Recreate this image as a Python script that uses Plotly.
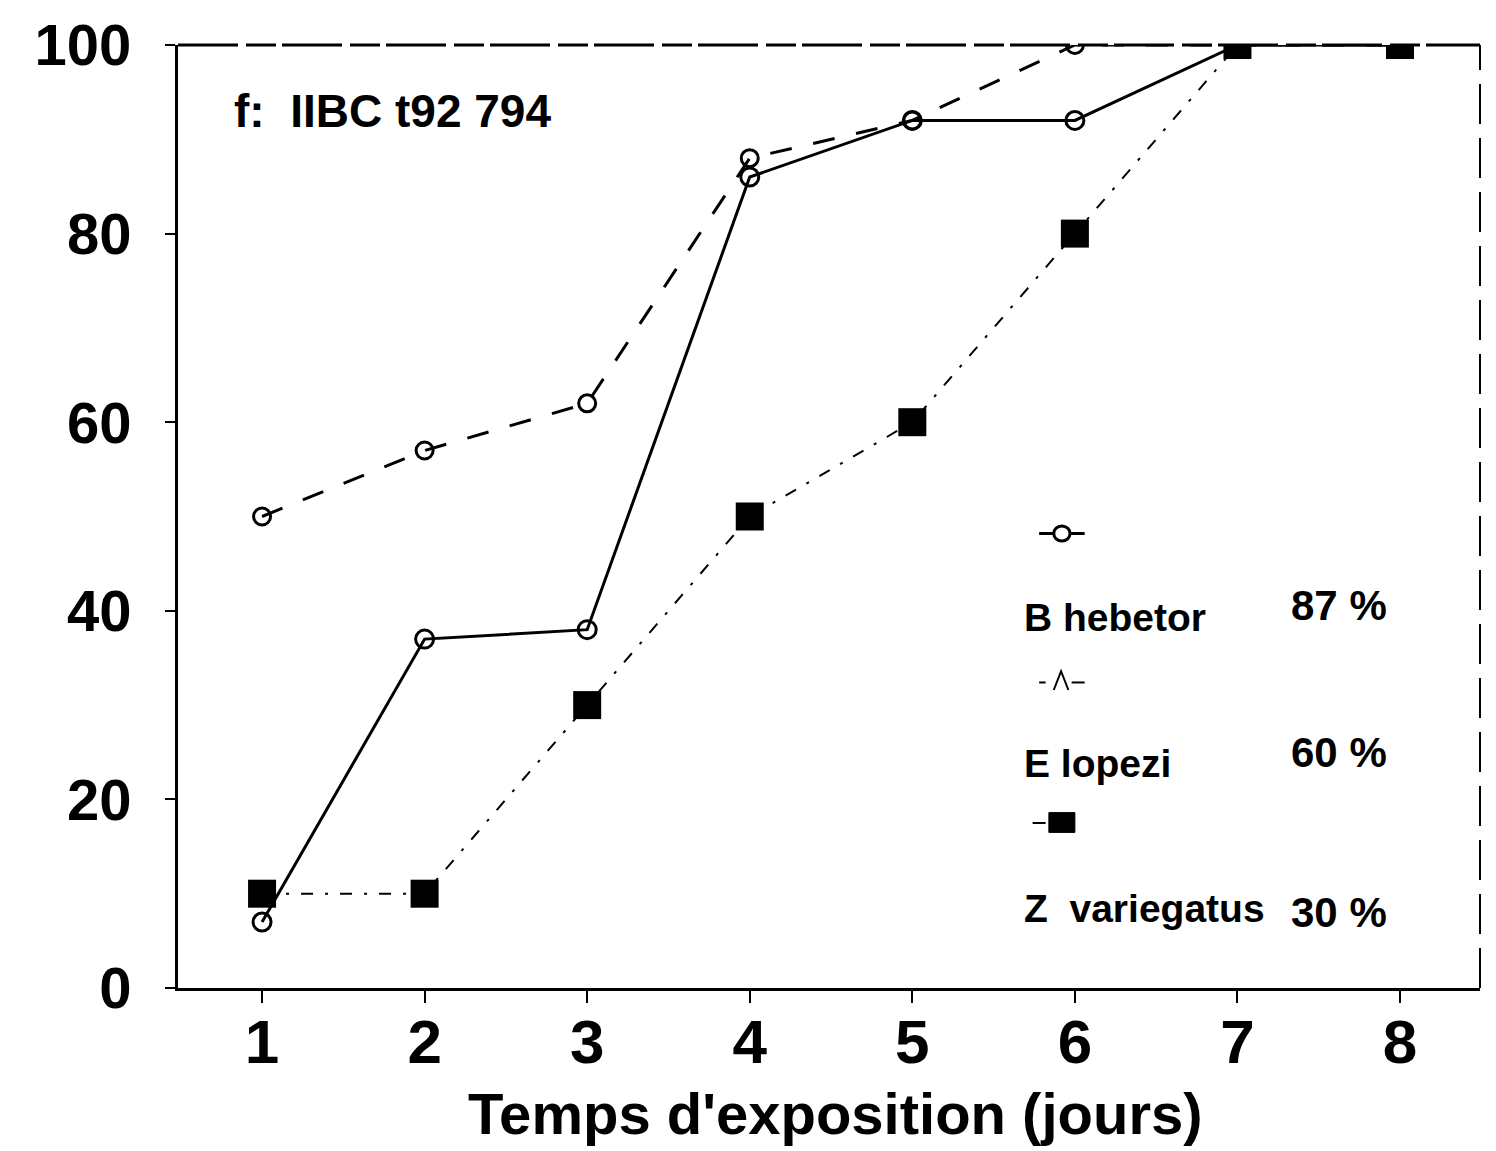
import plotly.graph_objects as go

days = [1, 2, 3, 4, 5, 6, 7, 8]
b_hebetor = [7, 37, 38, 86, 92, 92, 100, 100]
e_lopezi = [50, 57, 62, 88, 92, 100, 100, 100]
z_variegatus = [10, 10, 30, 50, 60, 80, 100, 100]

series_names = ["B hebetor", "E lopezi", "Z  variegatus"]
series_pct = ["87 %", "60 %", "30 %"]
x_ticks = [1, 2, 3, 4, 5, 6, 7, 8]
y_ticks = [0, 20, 40, 60, 80, 100]
x_title = "Temps d'exposition (jours)"
panel_label = "f:  IIBC t92 794"

FONT = "Liberation Sans, Arial, sans-serif"
INK = "black"

fig = go.Figure()

fig.add_trace(go.Scatter(
    x=days, y=e_lopezi, mode="lines+markers", name=series_names[1],
    line=dict(color=INK, width=3, dash="22px,22px"),
    marker=dict(symbol="circle-open", size=17, color=INK, line=dict(width=3, color=INK)),
))
fig.add_trace(go.Scatter(
    x=days, y=b_hebetor, mode="lines+markers", name=series_names[0],
    line=dict(color=INK, width=3),
    marker=dict(symbol="circle-open", size=18, color=INK, line=dict(width=3, color=INK)),
))
fig.add_trace(go.Scatter(
    x=days, y=z_variegatus, mode="lines+markers", name=series_names[2],
    line=dict(color=INK, width=2, dash="12px,12px,3px,12px"),
    marker=dict(symbol="square", size=28, color=INK),
))

fig.update_layout(
    width=1496, height=1151,
    margin=dict(l=178, r=16, t=36, b=163),
    paper_bgcolor="white", plot_bgcolor="white",
    showlegend=False,
    font=dict(family=FONT, color=INK),
    xaxis=dict(
        range=[0.483, 8.492], tickvals=x_ticks, ticktext=[str(v) for v in x_ticks],
        showgrid=False, zeroline=False, showline=True, linewidth=3, linecolor=INK,
        ticks="outside", ticklen=12, tickwidth=2, tickcolor=INK,
        tickfont=dict(size=62, family=FONT, weight="bold"),
        ticklabelstandoff=-14,
    ),
    xaxis2=dict(
        range=[0.483, 8.492], overlaying="x", anchor="y", side="bottom",
        tickvals=x_ticks, showticklabels=False, showgrid=False, zeroline=False,
        showline=False, ticks="inside", ticklen=12, tickwidth=2, tickcolor=INK,
    ),
    yaxis=dict(
        range=[0, 100], tickvals=y_ticks, ticktext=[str(v) for v in y_ticks],
        showgrid=False, zeroline=False, showline=True, linewidth=3, linecolor=INK,
        ticks="outside", ticklen=10, tickwidth=2, tickcolor=INK,
        tickfont=dict(size=58, family=FONT, weight="bold"),
        ticklabelstandoff=22,
    ),
)

# frame top and right
fig.add_shape(type="line", xref="paper", yref="paper", x0=0, x1=1, y0=1, y1=1,
              line=dict(color=INK, width=3, dash="60px,8px,30px,6px"))
fig.add_shape(type="line", xref="paper", yref="paper", x0=1, x1=1, y0=0, y1=1,
              line=dict(color=INK, width=2, dash="40px,14px"))

# axis title and panel label
fig.add_annotation(text=x_title, xref="paper", yref="paper", x=0.505, y=-0.133,
                   showarrow=False, xanchor="center", yanchor="middle",
                   font=dict(size=58, family=FONT, weight="bold", color=INK))
fig.add_annotation(text=panel_label, xref="x", yref="y", x=0.815, y=93,
                   showarrow=False, xanchor="left", yanchor="middle",
                   font=dict(size=46, family=FONT, weight="bold", color=INK))

# legend block
legend_text_y = [39.3, 23.8, 8.4]
legend_pct_y = [40.6, 25.0, 8.0]
for name, pct, ty, py in zip(series_names, series_pct, legend_text_y, legend_pct_y):
    fig.add_annotation(text=name, xref="x", yref="y", x=5.675, y=ty, showarrow=False,
                       xanchor="left", yanchor="middle",
                       font=dict(size=39, family=FONT, weight="bold", color=INK))
    fig.add_annotation(text=pct, xref="x", yref="y", x=7.32, y=py, showarrow=False,
                       xanchor="left", yanchor="middle",
                       font=dict(size=42, family=FONT, weight="bold", color=INK))

# legend samples
fig.add_shape(type="line", xref="x", yref="y", x0=5.78, x1=6.06, y0=48.2, y1=48.2,
              line=dict(color=INK, width=3))
fig.add_shape(type="circle", xref="x", yref="y", x0=5.87, x1=5.97, y0=47.4, y1=49.0,
              line=dict(color=INK, width=3), fillcolor="white")
fig.add_shape(type="line", xref="x", yref="y", x0=5.78, x1=5.82, y0=32.4, y1=32.4,
              line=dict(color=INK, width=2))
fig.add_shape(type="line", xref="x", yref="y", x0=5.98, x1=6.06, y0=32.4, y1=32.4,
              line=dict(color=INK, width=2))
fig.add_shape(type="path", xref="x", yref="y",
              path="M 5.87 31.6 L 5.915 33.6 L 5.96 31.6",
              line=dict(color=INK, width=2))
fig.add_shape(type="line", xref="x", yref="y", x0=5.74, x1=5.82, y0=17.5, y1=17.5,
              line=dict(color=INK, width=2))
fig.add_shape(type="rect", xref="x", yref="y", x0=5.84, x1=6.0, y0=16.5, y1=18.6,
              line=dict(color=INK, width=1), fillcolor=INK)

fig.write_html("out.html")
